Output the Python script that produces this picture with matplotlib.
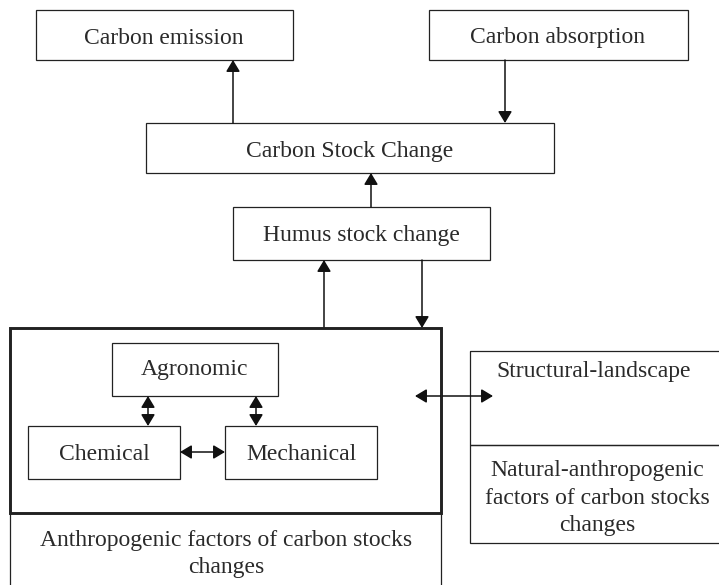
import matplotlib
matplotlib.use("Agg")
import matplotlib.pyplot as plt
from matplotlib.patches import Rectangle, FancyArrowPatch

# ---- content ----
top_labels = ["Carbon emission", "Carbon absorption"]
mid_labels = ["Carbon Stock Change", "Humus stock change"]
inner_labels = ["Agronomic", "Chemical", "Mechanical"]
anthro_label = "Anthropogenic factors of carbon stocks\nchanges"
right_labels = ["Structural-landscape", "Natural-anthropogenic\nfactors of carbon stocks\nchanges"]

W, H = 719, 585
fig = plt.figure(figsize=(W / 100, H / 100), dpi=100)
ax = fig.add_axes([0, 0, 1, 1])
ax.set_xlim(0, W)
ax.set_ylim(H, 0)
ax.axis("off")

FONT = "Liberation Serif"
FS = 17
thin = 0.9
thick = 2.1
EDGE = "#222222"
DY = 3  # vertical text nudge (pixels, downward)


def box(x0, y0, x1, y1, lw=thin):
    ax.add_patch(Rectangle((x0, y0), x1 - x0, y1 - y0, fill=False,
                           edgecolor=EDGE, linewidth=lw))


def text(x, y, s, **kw):
    ax.text(x, y + DY, s, ha="center", va="center", fontsize=FS, family=FONT,
            color="#2a2a2a", linespacing=1.4, **kw)


def arrow(p0, p1, both=False):
    hs = ",head_length=0.5,head_width=0.3"
    style = ("<|-|>" if both else "-|>") + hs
    ax.add_patch(FancyArrowPatch(p0, p1, arrowstyle=style, mutation_scale=14,
                                 shrinkA=0, shrinkB=0, linewidth=1.1,
                                 color="#111111"))


# top boxes
box(36, 10, 293, 60)
text(164, 35, top_labels[0])
box(429, 10, 688, 60)
text(558, 35, top_labels[1])

# Carbon stock change
box(146, 123, 554, 173)
text(350, 148, mid_labels[0])
arrow((233, 123), (233, 60))
arrow((505, 60), (505, 123))

# Humus
box(233, 207, 490, 260)
text(361.5, 233, mid_labels[1])
arrow((371, 207), (371, 173))
arrow((324, 328), (324, 260))
arrow((422, 260), (422, 328))

# Anthropogenic outer thin box (extends past bottom)
ax.plot([10, 10], [328, 590], color=EDGE, lw=thin)
ax.plot([441, 441], [328, 590], color=EDGE, lw=thin)
# thick inner box
box(10, 328, 441, 513, lw=thick)
text(226, 551, anthro_label)

# inner boxes
box(112, 343, 278, 396)
text(195, 366, inner_labels[0])
box(28, 426, 180, 479)
text(104, 451, inner_labels[1])
box(225, 426, 377, 479)
text(301, 451, inner_labels[2])
arrow((148, 396), (148, 426), both=True)
arrow((256, 396), (256, 426), both=True)
arrow((180, 452), (225, 452), both=True)

# right boxes (open on the right edge)
box(470, 351, 730, 445)
box(470, 445, 730, 543)
text(594, 369, right_labels[0])
text(597, 495, right_labels[1])
arrow((415, 396), (493, 396), both=True)

fig.savefig("out.png", dpi=100)
